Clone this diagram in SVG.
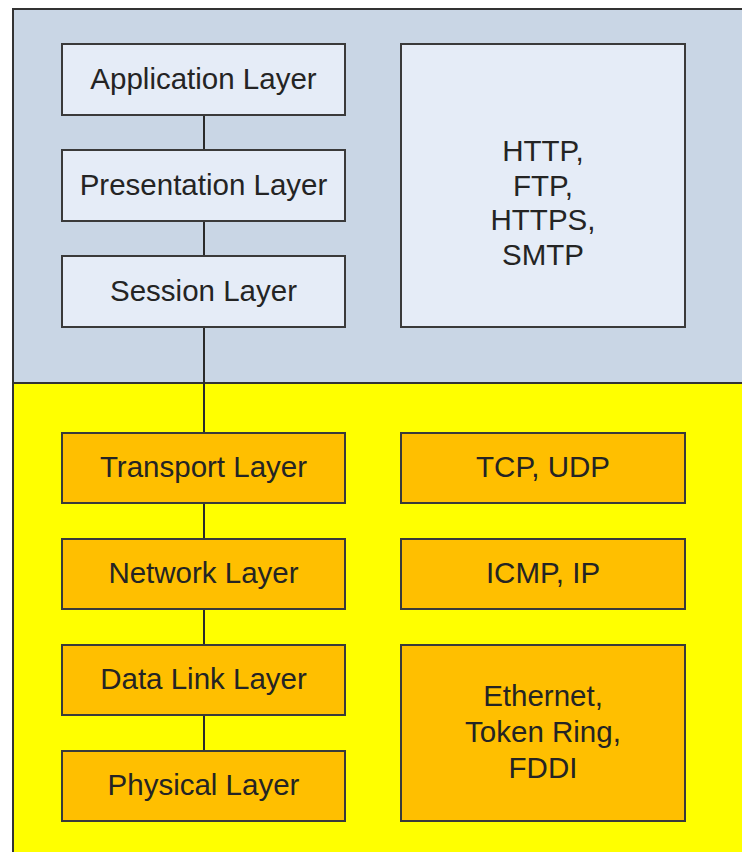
<svg xmlns="http://www.w3.org/2000/svg" width="742" height="852" viewBox="0 0 742 852">
  <style>
    .upper { fill: #c9d6e5; }
    .lower { fill: #ffff00; }
    .band { stroke: #333333; stroke-width: 2; fill: none; }
    .light { fill: #e5ecf7; stroke: #3a3a3a; stroke-width: 2; }
    .amber { fill: #ffbf00; stroke: #3a3a3a; stroke-width: 2; }
    .link { stroke: #2a2a2a; stroke-width: 2; fill: none; }
    text { font-family: "Liberation Sans", Arial, sans-serif; font-size: 29.5px; fill: #242424; text-anchor: middle; }
  </style>

  <!-- background bands -->
  <rect class="upper" x="13" y="9" width="729" height="374"/>
  <rect class="lower" x="13" y="383" width="729" height="469"/>
  <path class="band" d="M742 9 H13 V852 M13 383 H742"/>

  <!-- vertical connector chain -->
  <g id="connectors">
    <line class="link" x1="204" y1="115" x2="204" y2="150"/>
    <line class="link" x1="204" y1="221" x2="204" y2="256"/>
    <line class="link" x1="204" y1="327" x2="204" y2="433"/>
    <line class="link" x1="204" y1="503" x2="204" y2="539"/>
    <line class="link" x1="204" y1="609" x2="204" y2="645"/>
    <line class="link" x1="204" y1="715" x2="204" y2="751"/>
  </g>

  <!-- layer stack -->
  <g id="application">
    <rect class="light" x="62" y="44" width="283" height="71"/>
    <text x="203.5" y="88.5">Application Layer</text>
  </g>
  <g id="presentation">
    <rect class="light" x="62" y="150" width="283" height="71"/>
    <text x="203.5" y="194.5">Presentation Layer</text>
  </g>
  <g id="session">
    <rect class="light" x="62" y="256" width="283" height="71"/>
    <text x="203.5" y="300.5">Session Layer</text>
  </g>
  <g id="transport">
    <rect class="amber" x="62" y="433" width="283" height="70"/>
    <text x="203.5" y="477">Transport Layer</text>
  </g>
  <g id="network">
    <rect class="amber" x="62" y="539" width="283" height="70"/>
    <text x="203.5" y="583">Network Layer</text>
  </g>
  <g id="datalink">
    <rect class="amber" x="62" y="645" width="283" height="70"/>
    <text x="203.5" y="689">Data Link Layer</text>
  </g>
  <g id="physical">
    <rect class="amber" x="62" y="751" width="283" height="70"/>
    <text x="203.5" y="795">Physical Layer</text>
  </g>

  <!-- protocol boxes -->
  <g id="app-protocols">
    <rect class="light" x="401" y="44" width="284" height="283"/>
    <text x="543" y="160.5">HTTP,</text>
    <text x="543" y="195.5">FTP,</text>
    <text x="543" y="230">HTTPS,</text>
    <text x="543" y="265">SMTP</text>
  </g>
  <g id="transport-protocols">
    <rect class="amber" x="401" y="433" width="284" height="70"/>
    <text x="543" y="477">TCP, UDP</text>
  </g>
  <g id="network-protocols">
    <rect class="amber" x="401" y="539" width="284" height="70"/>
    <text x="543" y="583">ICMP, IP</text>
  </g>
  <g id="link-protocols">
    <rect class="amber" x="401" y="645" width="284" height="176"/>
    <text x="543" y="706">Ethernet,</text>
    <text x="543" y="742">Token Ring,</text>
    <text x="543" y="778">FDDI</text>
  </g>
</svg>
